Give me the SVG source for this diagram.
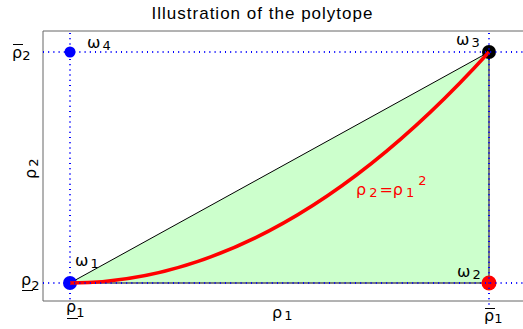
<svg xmlns="http://www.w3.org/2000/svg" width="523" height="329" viewBox="0 0 523 329">
<style>
text{font-family:"Liberation Sans","DejaVu Sans",sans-serif;fill:#000}
.g{font-family:"DejaVu Sans","Liberation Sans",sans-serif;font-size:16px}
.s{font-size:13px}
.dot{stroke:#0000ff;stroke-width:2;stroke-dasharray:1 4.2;fill:none}
.ax{stroke:#666;stroke-width:1;fill:none}
.bar{stroke:#000;stroke-width:1}
</style>
<rect width="523" height="329" fill="#fff"/>
<text x="262" y="19" font-size="17" text-anchor="middle" textLength="221" lengthAdjust="spacing">Illustration of the polytope</text>
<g id="axes">
<path class="ax" d="M523 31H43V301H523"/>
</g>
<g id="region">
<polygon points="70,283 489,52 489,283" fill="#ccffcc"/>
<path d="M70 283L489 52" stroke="#000" stroke-width="1" fill="none"/>
<path d="M70 283H489V52" stroke="#555" stroke-width="1.5" fill="none"/>
</g>
<g id="w4"><circle cx="70" cy="52" r="5.5" fill="#0000ff"/><text class="g" x="87" y="48">ω<tspan class="s" dy="2" dx="2">4</tspan></text></g>
<g id="w1"><circle cx="70" cy="283" r="7" fill="#0000ff"/><text class="g" x="75" y="266">ω<tspan class="s" dy="2" dx="2">1</tspan></text></g>
<g id="w3"><circle cx="489" cy="52" r="7" fill="#000"/><text class="g" x="456" y="45">ω<tspan class="s" dy="2" dx="2">3</tspan></text></g>
<g id="w2"><circle cx="489" cy="283" r="7.5" fill="#ff0000"/><text class="g" x="457" y="277">ω<tspan class="s" dy="2" dx="2">2</tspan></text></g>
<g id="connectors">
<path d="M70 283Q279.5 283 489 52" stroke="#ff0000" stroke-width="3.5" fill="none"/>
<path class="dot" d="M43 52H523M43 283H523M70 33V306M489 33V306"/>
</g>
<g id="curve-label">
<text x="356" y="195" style="fill:#ff0000;font-family:'DejaVu Sans',sans-serif;font-size:16px">ρ<tspan font-size="13" dy="2" dx="3">2</tspan><tspan dy="-2" dx="2">=ρ</tspan><tspan font-size="13" dy="2" dx="3">1</tspan><tspan font-size="13" dy="-12" dx="4">2</tspan></text>
</g>
<g id="labels">
<text class="g" x="12" y="58">ρ<tspan class="s" dy="2">2</tspan></text><line class="bar" x1="13" y1="44.5" x2="23" y2="44.5"/>
<text class="g" x="21" y="285">ρ<tspan class="s" dy="5">2</tspan></text><line class="bar" x1="22" y1="290.5" x2="33" y2="290.5"/>
<text class="g" x="66" y="312">ρ<tspan class="s" dy="5">1</tspan></text><line class="bar" x1="67" y1="318.5" x2="78" y2="318.5"/>
<text class="g" x="484" y="321">ρ<tspan class="s" dy="2">1</tspan></text><line class="bar" x1="485" y1="308.5" x2="495" y2="308.5"/>
<text class="g" x="272" y="318">ρ<tspan class="s" dy="2" dx="2">1</tspan></text>
<text class="g" transform="translate(36 179) rotate(-90)">ρ<tspan class="s" dy="2" dx="2">2</tspan></text>
</g>
</svg>
